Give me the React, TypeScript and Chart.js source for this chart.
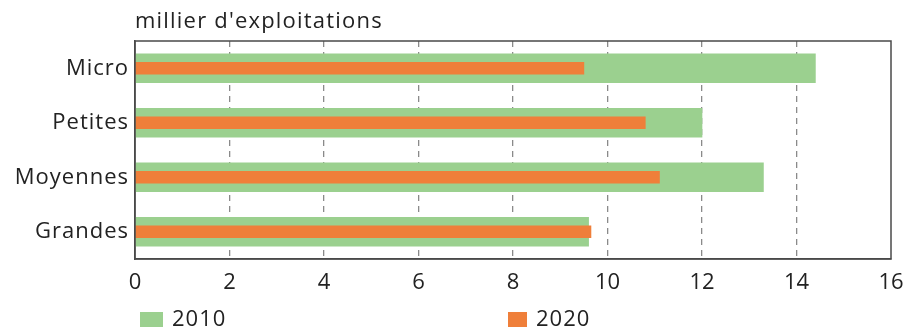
import React, { useEffect, useRef } from "react";
import { Chart, registerables } from "chart.js";

Chart.register(...registerables);

const categories = ["Micro", "Petites", "Moyennes", "Grandes"];
const values2010 = [14.4, 12.0, 13.3, 9.6];
const values2020 = [9.5, 10.8, 11.1, 9.65];
const xTicks = [0, 2, 4, 6, 8, 10, 12, 14, 16];
const seriesLabels = ["2010", "2020"];
const unitLabel = "millier d'exploitations";

const GREEN = "#9bd08f";
const ORANGE = "#ef7f3a";
const FONT = "'Open Sans', sans-serif";

export default function App() {
  const ref = useRef<HTMLCanvasElement>(null);

  useEffect(() => {
    if (!ref.current) return;
    const framePlugin = {
      id: "frame",
      beforeDraw(chart: any) {
        const y = chart.scales.y;
        if (y && !y.__wrapped) {
          const orig = y.drawLabels.bind(y);
          y.drawLabels = (area: any) => {
            const c = y.ctx;
            c.save();
            c.letterSpacing = "1px";
            orig(area);
            c.restore();
          };
          y.__wrapped = true;
        }
      },
      afterDatasetsDraw(chart: any) {
        const { ctx, chartArea } = chart;
        ctx.save();
        ctx.strokeStyle = "#4a4a4a";
        ctx.lineWidth = 1.5;
        ctx.strokeRect(chartArea.left, chartArea.top, chartArea.right - chartArea.left, chartArea.bottom - chartArea.top);
        ctx.restore();
      },
      afterDraw(chart: any) {
        const { ctx, chartArea } = chart;
        ctx.save();
        ctx.fillStyle = "#222";
        ctx.font = `22px ${FONT}`;
        (ctx as any).letterSpacing = "1.2px";
        ctx.textBaseline = "middle";
        ctx.textAlign = "left";
        ctx.fillText(unitLabel, chartArea.left, 22);
        // legend
        const items = [
          { x: 140, w: 23, color: GREEN, text: seriesLabels[0] },
          { x: 508, w: 19, color: ORANGE, text: seriesLabels[1] },
        ];
        ctx.font = `22px ${FONT}`;
        (ctx as any).letterSpacing = "1px";
        items.forEach((it) => {
          ctx.fillStyle = it.color;
          ctx.fillRect(it.x, 312, it.w, 15);
          ctx.fillStyle = "#222";
          ctx.fillText(it.text, it.x + it.w + 9, 320);
        });
        ctx.restore();
      },
    };

    const chart = new Chart(ref.current, {
      type: "bar",
      data: {
        labels: categories,
        datasets: [
          {
            label: seriesLabels[0],
            data: values2010,
            backgroundColor: GREEN,
            barThickness: 29,
            grouped: false,
            order: 1,
          } as any,
          {
            label: seriesLabels[1],
            data: values2020,
            backgroundColor: ORANGE,
            barThickness: 12,
            grouped: false,
            order: 0,
          } as any,
        ],
      },
      options: {
        indexAxis: "y",
        animation: false,
        responsive: false,
        layout: { padding: { left: 0, right: 14, top: 41, bottom: 0 } },
        plugins: { legend: { display: false }, tooltip: { enabled: false }, title: { display: false } },
        scales: {
          x: {
            min: 0,
            max: 16,
            afterBuildTicks: (scale: any) => {
              scale.ticks = xTicks.map((v) => ({ value: v }));
            },
            afterFit: (scale: any) => {
              scale.height = 71;
              scale.paddingLeft = 0;
              scale.paddingRight = 0;
            },
            ticks: {
              color: "#222",
              font: { family: FONT, size: 22 },
              padding: 11,
              maxRotation: 0,
            },
            grid: {
              drawTicks: false,
              color: (c: any) => (c.tick && (c.tick.value === 0 || c.tick.value === 16) ? "rgba(0,0,0,0)" : "#8a8a8a"),
              lineWidth: 1.3,
            },
            border: { display: true, color: "#4a4a4a", width: 1.5, dash: [6, 5] },
          },
          y: {
            afterFit: (scale: any) => {
              scale.width = 135;
              scale.paddingTop = 0;
              scale.paddingBottom = 0;
            },
            ticks: {
              color: "#222",
              font: { family: FONT, size: 22 },
              padding: 6,
            },
            grid: { display: false, drawTicks: false },
            border: { display: true, color: "#4a4a4a", width: 1.5 },
          },
        },
      },
      plugins: [framePlugin],
    });
    return () => chart.destroy();
  }, []);

  return (
    <div style={{ position: "absolute", left: 0, top: 0, width: 905, height: 330, background: "#fff" }}>
      <canvas ref={ref} width={905} height={330} style={{ display: "block", width: 905, height: 330 }} />
    </div>
  );
}
